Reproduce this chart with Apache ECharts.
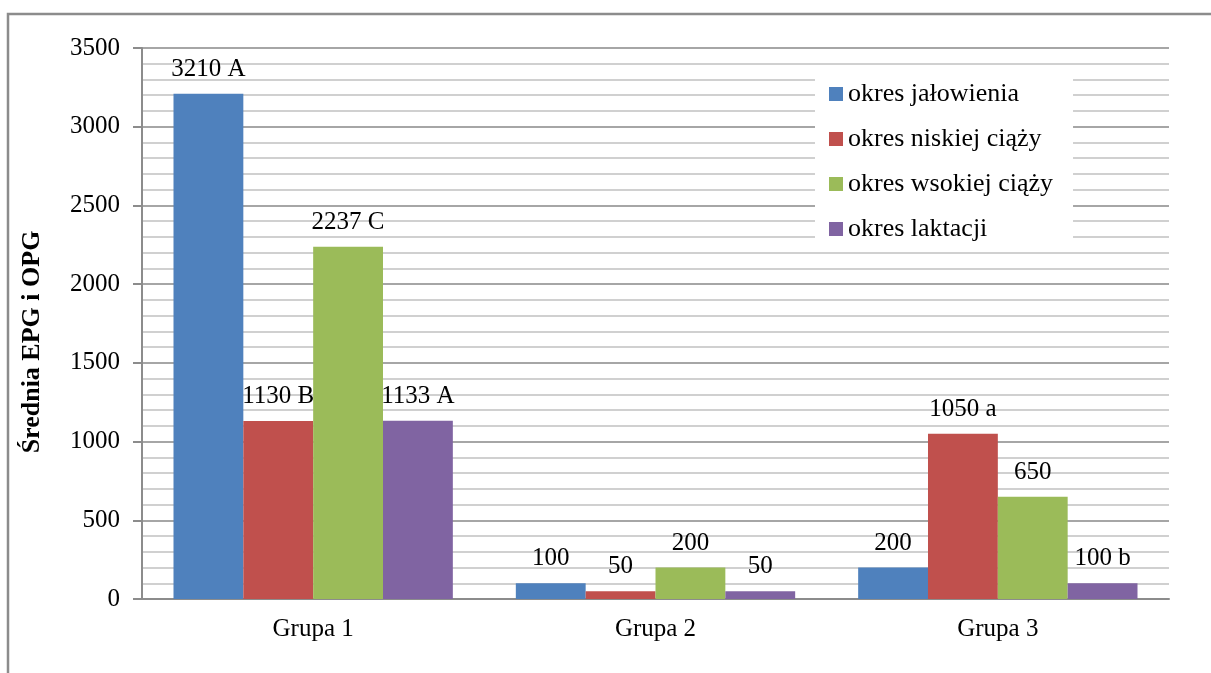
<!DOCTYPE html>
<html>
<head>
<meta charset="utf-8">
<script src="https://cdn.jsdelivr.net/npm/echarts@6/dist/echarts.min.js"></script>
<style>
  html, body { margin: 0; padding: 0; background: #fff; }
  #chart { width: 1211px; height: 673px; }
</style>
</head>
<body>
<div id="chart"></div>
<script>
// Groups on the category axis
const categories = ['Grupa 1', 'Grupa 2', 'Grupa 3'];

// Mean EPG / OPG per period
const seriesNames = ['okres jałowienia', 'okres niskiej ciąży', 'okres wsokiej ciąży', 'okres laktacji'];
const jalowienia = [3210, 100, 200];
const niskiejCiazy = [1130, 50, 1050];
const wysokiejCiazy = [2237, 200, 650];
const laktacji = [1133, 50, 100];

// Significance letters printed after each value
const jalowieniaLetters = ['A', '', ''];
const niskiejCiazyLetters = ['B', '', 'a'];
const wysokiejCiazyLetters = ['C', '', ''];
const laktacjiLetters = ['A', '', 'b'];

const yTitle = 'Średnia EPG i OPG';

const colors = ['#4F81BD', '#C0504D', '#9BBB59', '#8064A2'];
const serif = "'Times New Roman', 'Liberation Serif', serif";

const seriesValues = [jalowienia, niskiejCiazy, wysokiejCiazy, laktacji];
const seriesLetters = [jalowieniaLetters, niskiejCiazyLetters, wysokiejCiazyLetters, laktacjiLetters];

const chart = echarts.init(document.getElementById('chart'));

chart.setOption({
  animation: false,
  backgroundColor: '#fff',
  grid: { left: 142, right: 42, top: 48, bottom: 74, containLabel: false },
  legend: {
    orient: 'vertical',
    left: 815,
    top: 72,
    backgroundColor: '#fff',
    padding: [9, 20, 10, 14],
    itemWidth: 14,
    itemHeight: 14,
    itemGap: 19,
    icon: 'rect',
    textStyle: { fontFamily: serif, fontSize: 26, color: '#000' },
    data: seriesNames
  },
  xAxis: {
    type: 'category',
    data: categories,
    axisLine: { lineStyle: { color: '#8c8c8c', width: 2 } },
    axisTick: { show: false },
    axisLabel: { fontFamily: serif, fontSize: 25, color: '#000', margin: 18 }
  },
  yAxis: {
    type: 'value',
    min: 0,
    max: 3500,
    interval: 500,
    axisLine: { show: true, lineStyle: { color: '#8c8c8c', width: 2 } },
    axisTick: { show: true, length: 9, lineStyle: { color: '#8c8c8c', width: 2 } },
    axisLabel: {
      fontFamily: serif, fontSize: 25, color: '#000', margin: 22,
      formatter: v => String(v)
    },
    splitLine: { show: true, lineStyle: { color: '#a6a6a6', width: 2 } },
    minorTick: { show: false, splitNumber: 5 },
    minorSplitLine: { show: true, lineStyle: { color: '#d0d0d0', width: 2 } }
  },
  series: seriesNames.map((name, i) => ({
    name: name,
    type: 'bar',
    barGap: '0%',
    barCategoryGap: '18.4%',
    itemStyle: { color: colors[i] },
    label: {
      show: true,
      position: 'top',
      distance: 12,
      fontFamily: serif,
      fontSize: 25,
      color: '#000',
      formatter: p => {
        const letter = seriesLetters[i][p.dataIndex];
        return letter ? p.value + ' ' + letter : String(p.value);
      }
    },
    data: seriesValues[i]
  })),
  graphic: [
    {
      type: 'rect',
      silent: true,
      z: -1,
      shape: { x: 8, y: 14, width: 1300, height: 800 },
      style: { fill: 'none', stroke: '#8c8c8c', lineWidth: 2.5 }
    },
    {
      type: 'text',
      silent: true,
      x: 32,
      y: 342,
      rotation: Math.PI / 2,
      style: {
        text: yTitle,
        font: 'bold 26px ' + serif,
        fill: '#000',
        textAlign: 'center',
        textVerticalAlign: 'middle'
      }
    }
  ]
});
</script>
</body>
</html>
